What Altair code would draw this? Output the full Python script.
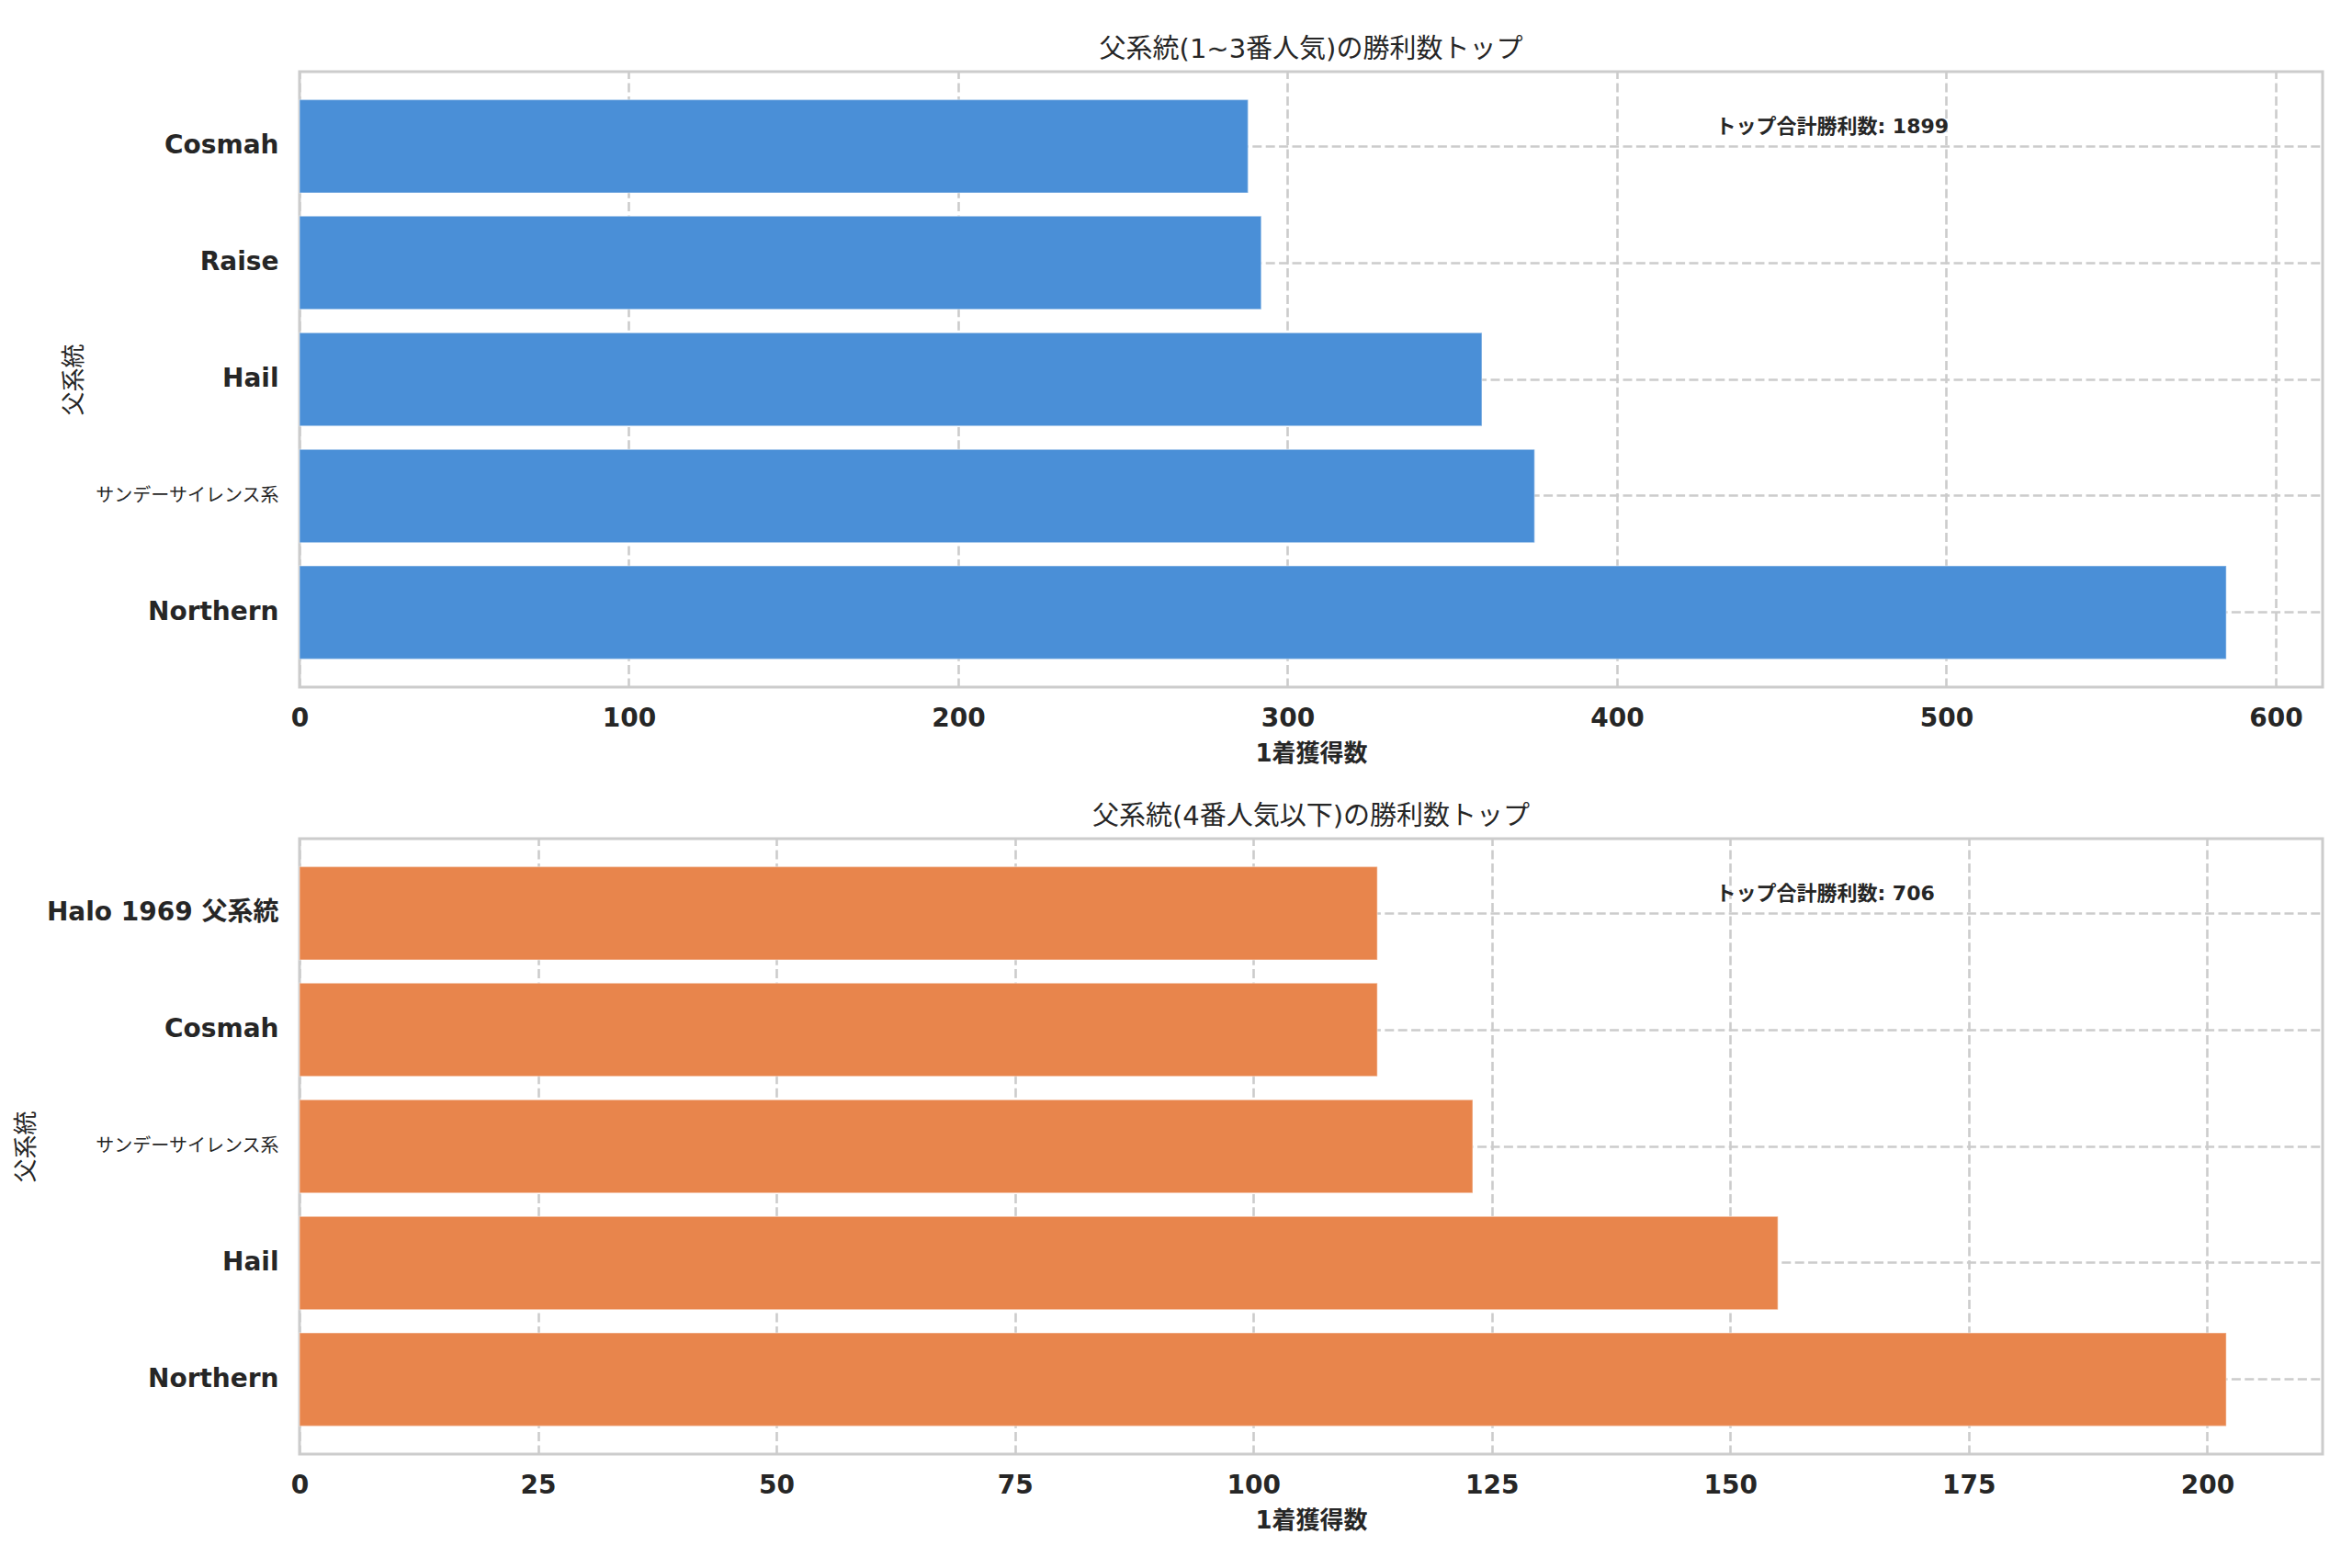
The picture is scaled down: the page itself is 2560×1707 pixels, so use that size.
import altair as alt
import pandas as pd

# ---- data ----
top_names = ["Cosmah", "Raise", "Hail", "サンデーサイレンス系", "Northern"]
top_wins = [288, 292, 359, 375, 585]
top_ticks = [0, 100, 200, 300, 400, 500, 600]

bottom_names = ["Halo 1969 父系統", "Cosmah", "サンデーサイレンス系", "Hail", "Northern"]
bottom_wins = [113, 113, 123, 155, 202]
bottom_ticks = [0, 25, 50, 75, 100, 125, 150, 175, 200]

title_top = "父系統(1~3番人気)の勝利数トップ"
title_bottom = "父系統(4番人気以下)の勝利数トップ"
x_title = "1着獲得数"
y_title = "父系統"
note_label = "トップ合計勝利数"

BLUE = "#4A8FD7"
ORANGE = "#E8854C"
TEXT = "#262626"
FONT = "'DejaVu Sans', 'Noto Sans CJK JP', sans-serif"

W, H = 2202, 670

# labels written only in Japanese script are set a little smaller and in normal weight
JP_TEST = "test(regexp('^[ぁ-んァ-ヶー一-龯]'), datum.label)"
LABEL_SIZE = {"expr": JP_TEST + " ? 20 : 28"}
LABEL_WEIGHT = {"expr": JP_TEST + " ? 'normal' : 'bold'"}


def panel(names, values, ticks, color, title, title_x):
    xmax = max(values) * 1.05
    df = pd.DataFrame({"name": names, "wins": values})
    bars = alt.Chart(df).mark_bar(
        color=color, stroke="#ffffff", strokeWidth=1.5, strokeOpacity=0.35
    ).encode(
        x=alt.X(
            "wins:Q",
            scale=alt.Scale(domain=[0, xmax], nice=False, zero=True),
            axis=alt.Axis(values=ticks, title=x_title, labelPadding=20,
                          titlePadding=11, format="d", labelFlush=False),
        ),
        y=alt.Y(
            "name:N",
            sort=names,
            scale=alt.Scale(paddingInner=0.2, paddingOuter=0.24),
            axis=alt.Axis(title=y_title, titleX=title_x, titleAngle=-90,
                          titleBaseline="middle", titleFontWeight="normal",
                          labelPadding=23, labelLimit=800, bandPosition=0.5,
                          labelFontSize=LABEL_SIZE, labelFontWeight=LABEL_WEIGHT),
        ),
    )
    note_df = pd.DataFrame({"label": [f"{note_label}: {sum(values)}"]})
    note = alt.Chart(note_df).mark_text(
        align="left", baseline="middle", fontWeight="bold", fontSize=22,
        color=TEXT, font=FONT,
    ).encode(
        x=alt.datum(xmax * 0.7),
        y=alt.value(60),
        text="label:N",
    )
    return alt.layer(bars, note).properties(
        width=W, height=H, title=alt.TitleParams(title)
    )


p1 = panel(top_names, top_wins, top_ticks, BLUE, title_top, -246)
p2 = panel(bottom_names, bottom_wins, bottom_ticks, ORANGE, title_bottom, -298)

chart = alt.vconcat(p1, p2, spacing=38).configure(
    font=FONT,
    padding={"left": 5, "top": 30, "right": 10, "bottom": 10},
    background="white",
).configure_view(
    stroke="#cccccc", strokeWidth=3
).configure_axis(
    grid=True,
    gridColor="#cccccc",
    gridDash=[10, 4.4],
    gridWidth=2.6,
    domain=False,
    ticks=False,
    labelFont=FONT,
    labelFontSize=28,
    labelFontWeight="bold",
    labelColor=TEXT,
    titleFont=FONT,
    titleFontSize=26,
    titleFontWeight="bold",
    titleColor=TEXT,
).configure_title(
    font=FONT,
    fontSize=29,
    fontWeight="normal",
    color=TEXT,
    anchor="middle",
    offset=9,
)

chart.save("out.html", embed_options={"renderer": "svg", "actions": False})
